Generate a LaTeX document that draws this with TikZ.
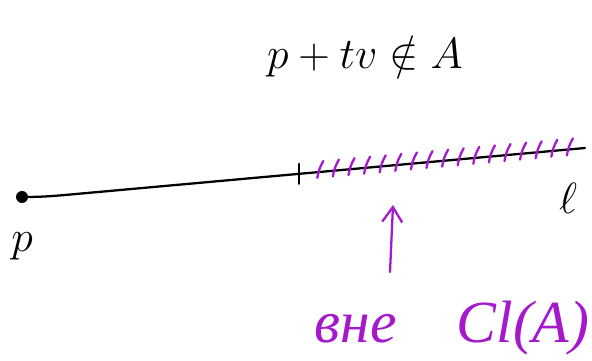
\documentclass[tikz,border=0pt]{standalone}
\usepackage{fontspec}
\newfontfamily\cyrfont{Liberation Serif}
\usetikzlibrary{arrows.meta, calc}
\definecolor{hatchpurple}{RGB}{165,25,205}
\tikzset{
  ray/.style={line width=1.3pt, black, line cap=round},
  hatch/.style={line width=1.3pt, hatchpurple, line cap=round},
  biglabel/.style={inner sep=0pt, font=\fontsize{24}{28}\selectfont}
}

\begin{document}
\begin{tikzpicture}
\useasboundingbox (0,0) rectangle (11.84,7.22);

% Ray from p
\coordinate (p) at (0.44,3.28);
\coordinate (bend) at (1.3,3.32);
\coordinate (rayend) at (11.7,4.26);
\draw[ray] (p) to[out=0,in=185] (bend) -- (rayend);
\fill (p) circle[radius=0.12];

% Mark where the set is left
\coordinate (cut) at ($(bend)!0.45!(rayend)$);
\draw[ray] ($(cut)+(0,-0.2)$) -- ($(cut)+(0,0.2)$);

% Purple hatching
\foreach \t in {0.49,0.52,...,0.98}
  \draw[hatch] ($(bend)!\t!(rayend)+(-0.05,-0.12)$) to[bend left=10] ++(0.12,0.34);

% Labels
\node[biglabel] (plabel) at (0.44,2.3) {$p$};
\node[biglabel] (ell) at (11.36,3.25) {$\ell$};
\node[biglabel] (cond) at (7.3,6.1) {$p+tv\notin A$};

% Note with arrow
\node[inner sep=0pt, text=hatchpurple, font=\fontsize{34}{38}\cyrfont\itshape] (note) at (9.04,0.66)
  {вне\quad Cl(A)};
\coordinate (arrowtail) at (7.8,1.78);
\coordinate (arrowtip) at (7.86,3.12);
\draw[hatch, -{Straight Barb[length=3mm, width=4mm]}] (arrowtail) -- (arrowtip);

\end{tikzpicture}
\end{document}
